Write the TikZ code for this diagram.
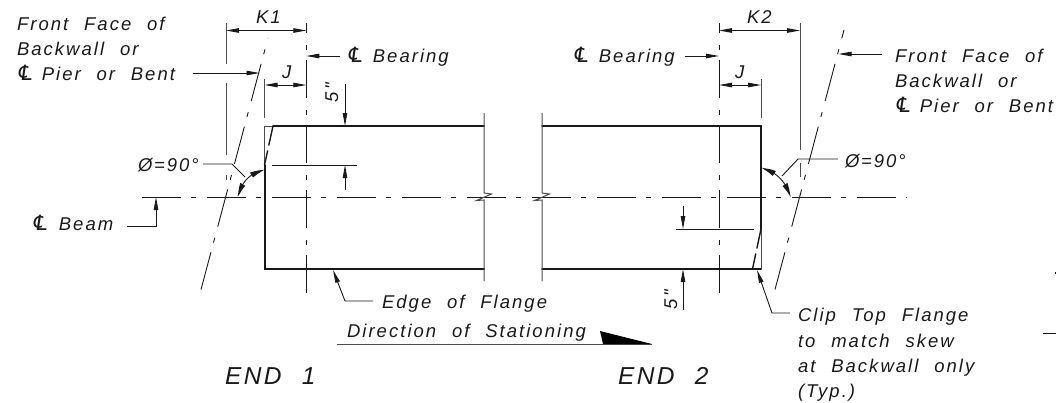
\documentclass[tikz,border=0pt]{standalone}
\usepackage{fontspec}
\usetikzlibrary{arrows.meta,bending}
\newfontfamily\cadfont[LetterSpace=11,WordSpace=2.2,ItalicFeatures={LetterSpace=11,WordSpace=2.2}]{Liberation Sans}
\newfontfamily\cadtight[LetterSpace=10,WordSpace=2.2,ItalicFeatures={LetterSpace=10,WordSpace=2.2}]{Liberation Sans}
\newfontfamily\clfont[FakeSlant=0.15]{DejaVu Sans}
\newcommand{\cl}{{\clfont\fontsize{21}{20}\selectfont ℄}}
\tikzset{
  x=1pt,y=-1pt,
  lbl/.style={anchor=base west,inner sep=0pt,outer sep=0pt,font=\cadfont\itshape\fontsize{18.5}{20}\selectfont,text=black!90},
  tightlbl/.style={lbl,font=\cadtight\itshape\fontsize{18.5}{20}\selectfont},
  big/.style={lbl,font=\cadtight\itshape\fontsize{24.5}{26}\selectfont},
  thin line/.style={line width=0.9pt,black!90},
  ext/.style={line width=0.9pt,black!70},
  thick line/.style={line width=2pt,black!90,line cap=round},
  cline/.style={line width=0.9pt,black!90,dash pattern=on 38.5pt off 10pt on 5pt off 11.5pt},
  tip/.style={-{Stealth[length=13pt,width=4.5pt,inset=0pt]}},
  tips/.style={{Stealth[length=13pt,width=4.5pt,inset=0pt]}-{Stealth[length=13pt,width=4.5pt,inset=0pt]}},
  arctip/.style={{Stealth[length=14pt,width=5.5pt,inset=0pt,bend]}-{Stealth[length=14pt,width=5.5pt,inset=0pt,bend]}},
}
\begin{document}
\begin{tikzpicture}
\useasboundingbox (0,0) rectangle (1056,402);
% key points
\coordinate (tl1) at (264.5,126); \coordinate (bl1) at (264.5,269);
\coordinate (tr1) at (484,126);   \coordinate (br1) at (484,269);
\coordinate (tl2) at (542,126);   \coordinate (bl2) at (542,269);
\coordinate (tr2) at (761,126);   \coordinate (br2) at (761,269);
% centre lines
\coordinate (cbL) at (142,197); \coordinate (cbR) at (907,197);
\draw[cline] (cbL) -- (cbR);
\coordinate (b1b) at (306.3,293); \coordinate (b1t) at (306.3,23);
\coordinate (b2b) at (719,293);   \coordinate (b2t) at (719,23);
\draw[cline] (b1b) -- (b1t);
\draw[cline] (b2b) -- (b2t);
\coordinate (s1b) at (201,289.5); \coordinate (s1t) at (268,38);
\coordinate (s2b) at (775,289.5); \coordinate (s2t) at (844,30);
\draw[cline] (s1b) -- (s1t);
\draw[cline] (s2b) -- (s2t);
% flange
\coordinate (c1t) at (273,126); \coordinate (c1b) at (264.5,165);
\coordinate (c2t) at (761,229); \coordinate (c2b) at (752.5,269);
\draw[thick line] (c1t) -- (tr1);
\draw[thick line] (c1b) -- (bl1) -- (br1);
\draw[thick line] (tl2) -- (tr2) -- (c2t);
\draw[thick line] (bl2) -- (br2);
\draw[ext] (tl1) -- (c1t);
\draw[ext] (tl1) -- (c1b);
\draw[ext] (c2t) -- (br2);
\draw[line width=1.4pt,black!90,dash pattern=on 20pt off 5pt] (c1t) -- (c1b);
\draw[line width=1.4pt,black!90,dash pattern=on 20pt off 5pt] (c2t) -- (c2b);
% break lines
\draw[ext,line width=1pt] (484,113) -- (484,193) -- (491.5,194) -- (476.5,200.5) -- (484,200) -- (484,281);
\draw[ext,line width=1pt] (542,113) -- (542,193) -- (549.5,194) -- (534.5,200.5) -- (542,200) -- (542,281);
% K1
\draw[ext] (226,23) -- (226,64) (226,83) -- (226,155) (226,175) -- (226,180);
\coordinate (k1a) at (226,30.5); \coordinate (k1b) at (306.3,30.5);
\draw[thin line,tips] (k1a) -- (k1b);
\node[lbl] (k1) at (256,23) {K1};
% J1
\draw[ext] (264.5,79) -- (264.5,118);
\coordinate (j1a) at (264.5,85); \coordinate (j1b) at (306.3,85);
\draw[thin line,tips] (j1a) -- (j1b);
\node[lbl] (j1) at (282,78) {J};
% K2
\draw[ext] (800,23) -- (800,150) (800,163) -- (800,177);
\coordinate (k2a) at (719,30.5); \coordinate (k2b) at (800,30.5);
\draw[thin line,tips] (k2a) -- (k2b);
\node[lbl] (k2) at (747,23) {K2};
% J2
\draw[ext] (761,79) -- (761,118);
\coordinate (j2a) at (719,85); \coordinate (j2b) at (761,85);
\draw[thin line,tips] (j2a) -- (j2b);
\node[lbl] (j2) at (735,78) {J};
% 5 in, left
\coordinate (p1a) at (345,84); \coordinate (p1b) at (345,126);
\coordinate (p1c) at (345,190); \coordinate (p1d) at (345,165);
\draw[thin line,tip] (p1a) -- (p1b);
\draw[thin line,tip] (p1c) -- (p1d);
\draw[thin line] (272,165) -- (357,165);
\node[lbl,rotate=90] (five1) at (338,102) {5"};
% 5 in, right
\coordinate (p2a) at (683,206); \coordinate (p2b) at (683,229);
\coordinate (p2c) at (683,310); \coordinate (p2d) at (683,269);
\draw[thin line,tip] (p2a) -- (p2b);
\draw[thin line,tip] (p2c) -- (p2d);
\draw[thin line] (676,229) -- (754,229);
\node[lbl,rotate=90] (five2) at (677,309) {5"};
% labels
\node[lbl] (ff1a) at (17,30) {Front Face of};
\node[lbl] (ff1b) at (17,55) {Backwall or};
\node[lbl] (ff1c) at (15,80) {\cl\hspace{8pt}Pier or Bent};
\coordinate (ff1s) at (193,73); \coordinate (ff1e) at (259.5,73);
\draw[thin line,tip] (ff1s) -- (ff1e);
\node[lbl] (bear1) at (345,62) {\cl\hspace{9pt}Bearing};
\coordinate (br1s) at (340,56); \coordinate (br1e) at (306.3,56);
\draw[thin line,tip] (br1s) -- (br1e);
\node[lbl] (bear2) at (571,62) {\cl\hspace{9pt}Bearing};
\coordinate (br2s) at (685,56); \coordinate (br2e) at (719,56);
\draw[thin line,tip] (br2s) -- (br2e);
\node[lbl] (ff2a) at (895,62) {Front Face of};
\node[lbl] (ff2b) at (895,87) {Backwall or};
\node[lbl] (ff2c) at (893,112) {\cl\hspace{8pt}Pier or Bent};
\coordinate (ff2s) at (882,54); \coordinate (ff2e) at (838.5,54);
\draw[thin line,tip] (ff2s) -- (ff2e);
% angle left
\node[tightlbl] (ang1) at (138,171) {Ø=90°};
\draw[thin line] (203,164) -- (232,164) -- (245,177);
\coordinate (a1a) at (264.5,170); \coordinate (a1b) at (238,197);
\draw[thin line,arctip] (a1a) .. controls (252,172) and (241,181) .. (a1b);
% angle right
\node[tightlbl] (ang2) at (845,167) {Ø=90°};
\draw[thin line] (838,159) -- (798,159) -- (782,176);
\coordinate (a2a) at (761.5,168); \coordinate (a2b) at (790.5,197);
\draw[thin line,arctip] (a2a) .. controls (775,171) and (786,181) .. (a2b);
% beam
\node[lbl] (beam) at (30,230) {\cl\hspace{10pt}Beam};
\coordinate (bms) at (127,226); \coordinate (bmc) at (156,226); \coordinate (bme) at (156,197);
\draw[thin line,tip] (bms) -- (bmc) -- (bme);
% edge of flange
\node[lbl] (edge) at (382,308) {Edge of Flange};
\coordinate (eds) at (373,301); \coordinate (edc) at (345,301); \coordinate (ede) at (333,270);
\draw[thin line,tip] (eds) -- (edc) -- (ede);
% stationing
\node[lbl] (dir) at (347,337) {Direction of Stationing};
\coordinate (dl) at (337,344); \coordinate (dr) at (652,344);
\draw[ext,line width=1pt] (dl) -- (dr);
\fill[black] (600,331) -- (603,344) -- (dr) -- cycle;
% clip
\node[lbl] (clipa) at (798,321) {Clip Top Flange};
\node[lbl] (clipb) at (798,347) {to match skew};
\node[lbl] (clipc) at (798,372) {at Backwall only};
\node[lbl] (clipd) at (798,397) {(Typ.)};
\coordinate (cls) at (790,313); \coordinate (clc) at (772,313); \coordinate (cle) at (757,270);
\draw[thin line,tip] (cls) -- (clc) -- (cle);
% END
\node[big] (end1) at (225,384) {END 1};
\node[big] (end2) at (618,384) {END 2};
% stray marks at the edge
\draw[thin line] (1043,333) -- (1056,333);
\draw[thin line] (1055.5,272) -- (1055.5,274);
\end{tikzpicture}
\end{document}
